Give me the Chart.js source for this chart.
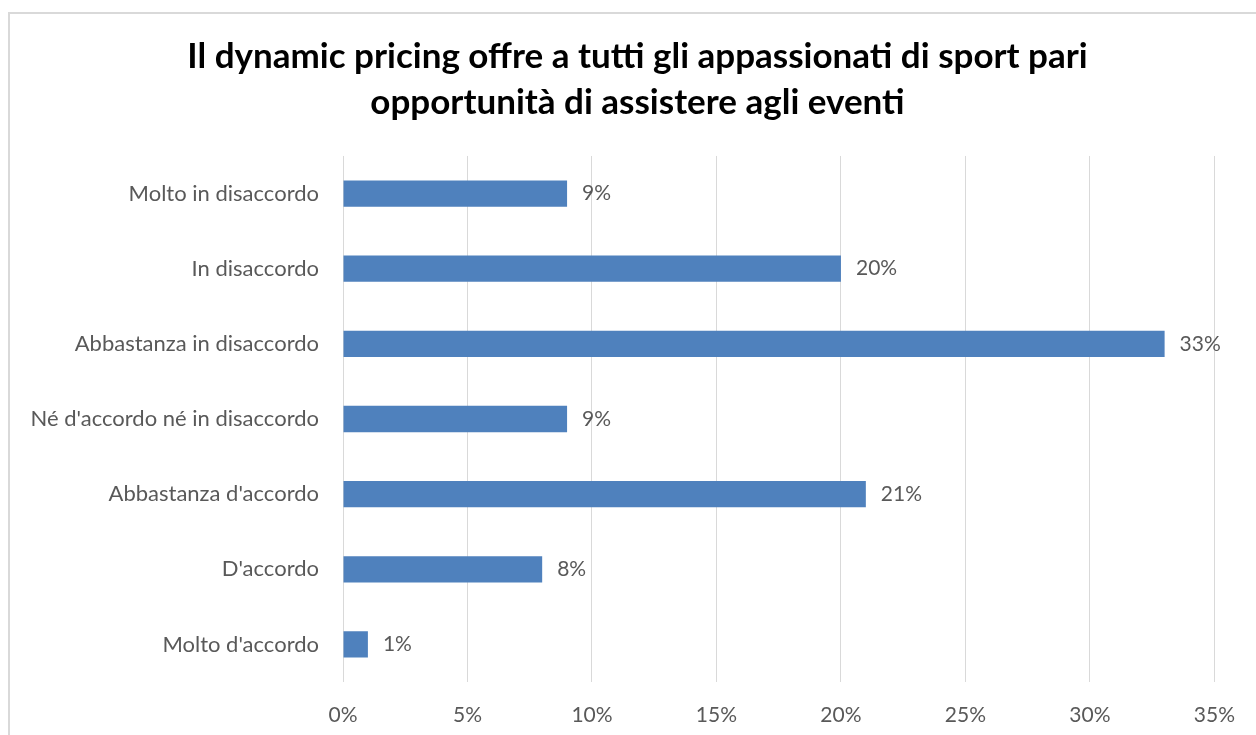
<!DOCTYPE html>
<html>
<head>
    <meta charset="utf-8">
    <script src="https://cdn.jsdelivr.net/npm/chart.js@4.4.1/dist/chart.umd.min.js"></script>
    <style>
        body { margin: 0; background: #fff; overflow: hidden; }
        #frame { position: absolute; left: 8px; top: 12px; width: 1300px; height: 800px; border: 2px solid #d9d9d9; }
        #wrap { position: absolute; left: 0; top: 0; width: 1256px; height: 735px; }
    </style>
</head>
<body>
<div id="frame"></div>
<div id="wrap"><canvas id="myChart" width="1256" height="735"></canvas></div>

<script>
    const titleLines = ["Il dynamic pricing offre a tutti gli appassionati di sport pari", "opportunità di assistere agli eventi"];
    const categories = ["Molto in disaccordo", "In disaccordo", "Abbastanza in disaccordo", "Né d'accordo né in disaccordo", "Abbastanza d'accordo", "D'accordo", "Molto d'accordo"];
    const values = [9, 20, 33, 9, 21, 8, 1];
    const xTicks = [0, 5, 10, 15, 20, 25, 30, 35];

    const fontFamily = "Lato, 'Open Sans', sans-serif";
    const textGrey = "#595959";

    // percent labels next to each bar end
    const valueLabels = {
        id: "valueLabels",
        afterDatasetsDraw(chart) {
            const ctx = chart.ctx;
            const meta = chart.getDatasetMeta(0);
            ctx.save();
            ctx.font = "21px " + fontFamily;
            ctx.fillStyle = textGrey;
            ctx.textAlign = "left";
            ctx.textBaseline = "middle";
            meta.data.forEach((bar, i) => {
                ctx.fillText(values[i] + "%", bar.x + 15, bar.y);
            });
            ctx.restore();
        }
    };

    // the left padding only recentres the title; let the long category labels use that space
    const widenLabelArea = {
        id: "widenLabelArea",
        afterLayout(chart) {
            chart.scales.y.left = 0;
        }
    };

    let myChart = new Chart("myChart", {
        type: "bar",
        data: {
            labels: categories,
            datasets: [{
                data: values,
                backgroundColor: "#4f81bd",
                borderWidth: 0,
                barPercentage: 0.35,
                categoryPercentage: 1
            }]
        },
        plugins: [valueLabels, widenLabelArea],
        options: {
            indexAxis: "y",
            responsive: false,
            animation: false,
            layout: { padding: { left: 58, right: 39, top: 0, bottom: 0 } },
            plugins: {
                legend: { display: false },
                tooltip: { enabled: false },
                title: {
                    display: true,
                    text: titleLines,
                    color: "#000",
                    font: { family: fontFamily, size: 35, weight: "bold", lineHeight: 1.314 },
                    padding: { top: 34, bottom: 30 }
                }
            },
            scales: {
                x: {
                    min: 0,
                    max: 35,
                    afterBuildTicks(scale) {
                        scale.ticks = xTicks.map(v => ({ value: v }));
                    },
                    afterFit(scale) { scale.height = 53; },
                    grid: { color: "#d9d9d9", lineWidth: 1, drawTicks: false },
                    border: { display: false },
                    ticks: {
                        padding: 21,
                        color: textGrey,
                        font: { family: fontFamily, size: 21 },
                        callback: v => v + "%"
                    }
                },
                y: {
                    afterFit(scale) { scale.width = 285; },
                    grid: { display: false, drawTicks: false },
                    border: { display: false },
                    ticks: {
                        padding: 24,
                        color: textGrey,
                        font: { family: fontFamily, size: 22 }
                    }
                }
            }
        }
    });
</script>
</body>
</html>
